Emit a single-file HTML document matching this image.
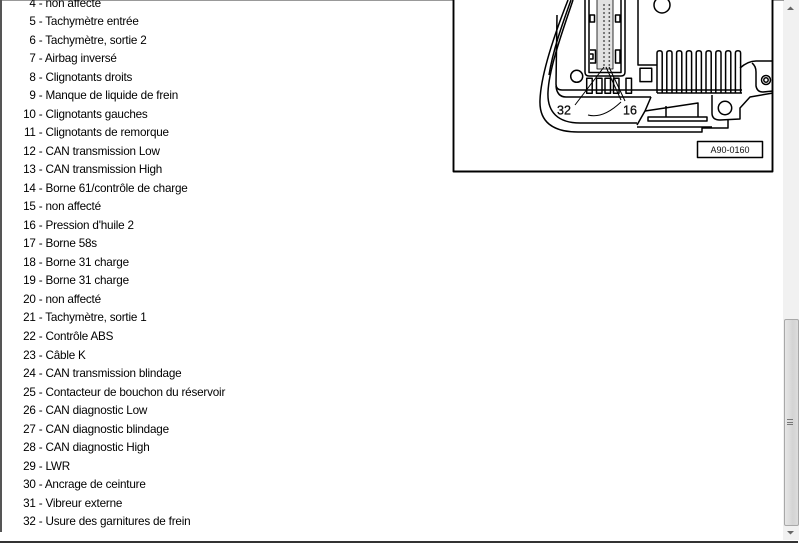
<!DOCTYPE html>
<html><head><meta charset="utf-8">
<style>
html,body{margin:0;padding:0;background:#fff;}
body{width:800px;height:543px;position:relative;overflow:hidden;font-family:"Liberation Sans",Arial,sans-serif;}
#list{position:absolute;left:0;top:-5.3px;font-size:11.7px;letter-spacing:-0.2px;line-height:18.52px;color:#000;white-space:nowrap;}
#list div{height:18.52px;}
#list span{display:inline-block;width:35.7px;text-align:right;}
.lb{position:absolute;left:0;top:0;width:2px;height:532px;background:#555;}
.tb{position:absolute;left:0;top:0;width:784px;height:1px;background:#999;}
.bb{position:absolute;left:0;top:540.5px;width:798px;height:2px;background:#333;}
.track{position:absolute;left:783px;top:0;width:16px;height:540px;background:#f1f1f1;}
.thumb{position:absolute;left:783.5px;top:319px;width:13px;height:205px;border:1px solid #a8a8a8;border-radius:2px;background:linear-gradient(to right,#e6e6e6,#d4d4d4 60%,#dcdcdc);}
.grip{position:absolute;left:787px;width:6px;height:1px;background:#777;}
svg{position:absolute;left:0;top:0;}
</style></head><body>
<div class="track"></div>
<div class="thumb"></div>
<div class="grip" style="top:419px"></div>
<div class="grip" style="top:421.5px"></div>
<div class="grip" style="top:424px"></div>
<div class="tb"></div>
<div class="lb"></div>
<div class="bb"></div>
<div id="list">
<div><span>4</span> - non affecté</div>
<div><span>5</span> - Tachymètre entrée</div>
<div><span>6</span> - Tachymètre, sortie 2</div>
<div><span>7</span> - Airbag inversé</div>
<div><span>8</span> - Clignotants droits</div>
<div><span>9</span> - Manque de liquide de frein</div>
<div><span>10</span> - Clignotants gauches</div>
<div><span>11</span> - Clignotants de remorque</div>
<div><span>12</span> - CAN transmission Low</div>
<div><span>13</span> - CAN transmission High</div>
<div><span>14</span> - Borne 61/contrôle de charge</div>
<div><span>15</span> - non affecté</div>
<div><span>16</span> - Pression d'huile 2</div>
<div><span>17</span> - Borne 58s</div>
<div><span>18</span> - Borne 31 charge</div>
<div><span>19</span> - Borne 31 charge</div>
<div><span>20</span> - non affecté</div>
<div><span>21</span> - Tachymètre, sortie 1</div>
<div><span>22</span> - Contrôle ABS</div>
<div><span>23</span> - Câble K</div>
<div><span>24</span> - CAN transmission blindage</div>
<div><span>25</span> - Contacteur de bouchon du réservoir</div>
<div><span>26</span> - CAN diagnostic Low</div>
<div><span>27</span> - CAN diagnostic blindage</div>
<div><span>28</span> - CAN diagnostic High</div>
<div><span>29</span> - LWR</div>
<div><span>30</span> - Ancrage de ceinture</div>
<div><span>31</span> - Vibreur externe</div>
<div><span>32</span> - Usure des garnitures de frein</div>
</div>
<svg width="800" height="543" viewBox="0 0 800 543">
<g fill="none" stroke="#000" stroke-width="1.5" stroke-linejoin="round">
<path d="M787,10 L790.5,6.5 L794,10 Z" fill="#666" stroke="none"/>
<path d="M787,531 L794,531 L790.5,534.5 Z" fill="#666" stroke="none"/>
<rect x="453.5" y="-2" width="319" height="173.5" stroke-width="1.9" fill="#fff"/>
<path d="M568,0 C557,28 541,72 540,100 C539,122 553,132 578,132 L702,132 L702,128 L728,128 L728,119"/>
<path d="M571,0 C562,25 553,50 549,75"/>
<path d="M573,0 C563,30 549,68 548,92 C547,112 558,123 580,123 L637,123"/>
<path d="M557,15 L556,84 Q556,90 562,90 L742,90"/>
<path d="M556,86 Q557,97 566,97 L651,97"/>
<path d="M651,97 L645,111 L637,125"/>
<path d="M645,111 L698,103 L698,117"/>
<path d="M666,106 L666,117"/>
<rect x="648" y="117" width="59" height="4"/>
<path d="M637,127 L712,127"/>
<path d="M712,95 L712,113 Q712,120 720,120 L740,119 L740,108 L750,97 L773,93"/>
<circle cx="725" cy="108" r="6.7"/>
<path d="M740,68 Q748,61 756,61 L773,61"/>
<path d="M752,63 Q756,66 756,72 L756,86 Q757,92 763,92 L773,91"/>
<circle cx="766" cy="80" r="4.5"/>
<circle cx="766" cy="80" r="2.2"/>
<path d="M638,0 L638,65 L657,65"/>
<rect x="640" y="68.3" width="11.7" height="13.3"/>
<path d="M657,93 L742,93"/>
<path d="M657,93 L657,53 Q657,50.7 659.6,50.7 Q662.2,50.7 662.2,53 L662.2,93"/>
<path d="M666.8,93 L666.8,53 Q666.8,50.7 669.4,50.7 Q672,50.7 672,53 L672,93"/>
<path d="M676.6,93 L676.6,53 Q676.6,50.7 679.2,50.7 Q681.8,50.7 681.8,53 L681.8,93"/>
<path d="M686.4,93 L686.4,53 Q686.4,50.7 689,50.7 Q691.6,50.7 691.6,53 L691.6,93"/>
<path d="M696.2,93 L696.2,53 Q696.2,50.7 698.8,50.7 Q701.4,50.7 701.4,53 L701.4,93"/>
<path d="M706,93 L706,53 Q706,50.7 708.6,50.7 Q711.2,50.7 711.2,53 L711.2,93"/>
<path d="M715.8,93 L715.8,53 Q715.8,50.7 718.4,50.7 Q721,50.7 721,53 L721,93"/>
<path d="M725.6,93 L725.6,53 Q725.6,50.7 728.2,50.7 Q730.8,50.7 730.8,53 L730.8,93"/>
<path d="M735.4,93 L735.4,53 Q735.4,50.7 738,50.7 Q740.6,50.7 740.6,53 L740.6,93"/>
<path d="M585,0 L585,72 Q585,76 589,76 L621,76 Q625,76 625,72 L625,0"/>
<rect x="597" y="0" width="16" height="69" fill="#e2e2e2" stroke="none"/>
<path d="M589,0 L589,72.5 L621,72.5 L621,0"/>
<path d="M597,0 L597,69 L613,69 L613,0" stroke-width="0.8"/>
<rect x="590" y="15" width="4.5" height="7"/>
<rect x="615.5" y="15" width="4.5" height="7"/>
<path d="M590,50 L595.5,50 L595.5,63 L590,63 M590,54 L593,54 L593,59 L590,59"/>
<rect x="615.5" y="50" width="4.5" height="13"/>
<rect x="586.7" y="78.3" width="5.5" height="15"/>
<rect x="596.5" y="78.3" width="5.5" height="15"/>
<rect x="605" y="78.3" width="5.5" height="15"/>
<rect x="613.5" y="78.3" width="5.5" height="15"/>
<rect x="626" y="78.3" width="5.5" height="15"/>
<circle cx="576.7" cy="76.3" r="6"/>
<circle cx="662" cy="5" r="8"/>
<path d="M575,105 L604,67" stroke-width="1"/>
<path d="M621,100 L606,67" stroke-width="1"/>
<path d="M625,101 L609,67" stroke-width="1"/>
<path d="M588,115 Q603,119 621,102" stroke-width="1"/>
<rect x="697.5" y="141.5" width="65" height="16" stroke-width="1.5"/>
</g>
<g fill="#333">
<circle cx="604" cy="5" r="0.9"/><circle cx="609.3" cy="5" r="0.9"/>
<circle cx="604" cy="9" r="0.9"/><circle cx="609.3" cy="9" r="0.9"/>
<circle cx="604" cy="13" r="0.9"/><circle cx="609.3" cy="13" r="0.9"/>
<circle cx="604" cy="17" r="0.9"/><circle cx="609.3" cy="17" r="0.9"/>
<circle cx="604" cy="21" r="0.9"/><circle cx="609.3" cy="21" r="0.9"/>
<circle cx="604" cy="25" r="0.9"/><circle cx="609.3" cy="25" r="0.9"/>
<circle cx="604" cy="29" r="0.9"/><circle cx="609.3" cy="29" r="0.9"/>
<circle cx="604" cy="33" r="0.9"/><circle cx="609.3" cy="33" r="0.9"/>
<circle cx="604" cy="37" r="0.9"/><circle cx="609.3" cy="37" r="0.9"/>
<circle cx="604" cy="41" r="0.9"/><circle cx="609.3" cy="41" r="0.9"/>
<circle cx="604" cy="45" r="0.9"/><circle cx="609.3" cy="45" r="0.9"/>
<circle cx="604" cy="49" r="0.9"/><circle cx="609.3" cy="49" r="0.9"/>
<circle cx="604" cy="53" r="0.9"/><circle cx="609.3" cy="53" r="0.9"/>
<circle cx="604" cy="57" r="0.9"/><circle cx="609.3" cy="57" r="0.9"/>
<circle cx="604" cy="61" r="0.9"/><circle cx="609.3" cy="61" r="0.9"/>
<circle cx="604" cy="65" r="0.9"/><circle cx="609.3" cy="65" r="0.9"/>
</g>
<g font-family="Liberation Sans, Arial, sans-serif" fill="#111">
<text x="557" y="114.5" font-size="12.5" stroke="#111" stroke-width="0.3">32</text>
<text x="623" y="114.5" font-size="12.5" stroke="#111" stroke-width="0.3">16</text>
<text x="730" y="153" font-size="9" text-anchor="middle">A90-0160</text>
</g>
</svg>
</body></html>
